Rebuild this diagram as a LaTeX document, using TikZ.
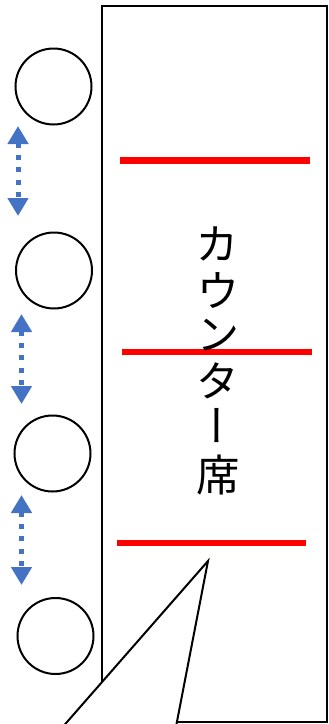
\documentclass[tikz,border=0pt]{standalone}
\usepackage{fontspec}
\newfontfamily\cjk[RawFeature=+vert]{Noto Sans CJK JP}
\usetikzlibrary{arrows.meta}
\definecolor{arrowblue}{HTML}{4472C4}
\definecolor{seatred}{HTML}{FF0000}
\tikzset{
  seat/.style={draw=black, line width=2pt, circle, minimum size=76pt, inner sep=0pt, fill=white},
  counter/.style={draw=black, line width=2pt},
  divider/.style={draw=seatred, line width=6.5pt},
  gap/.style={draw=arrowblue, line width=5pt, dash pattern=on 5pt off 7.3pt,
    {Triangle[width=20pt,length=18pt]}-{Triangle[width=20pt,length=18pt]}, shorten <=0pt, shorten >=0pt},
  bubble/.style={draw=black, line width=2pt, fill=white, line join=miter},
  vchar/.style={inner sep=0pt, font=\cjk\fontsize{43.5}{46}\selectfont},
}
\begin{document}
\begin{tikzpicture}[x=1pt,y=-1pt]
\useasboundingbox (0,0) rectangle (329,724);
\clip (0,0) rectangle (329,724);
% counter
\draw[counter] (102,6) rectangle (327,722);
% dividers
\coordinate (d1a) at (120,160.5); \coordinate (d1b) at (310,160.5);
\coordinate (d2a) at (122,352); \coordinate (d2b) at (312,352);
\coordinate (d3a) at (117,543); \coordinate (d3b) at (306,543);
\draw[divider] (d1a) -- (d1b);
\draw[divider] (d2a) -- (d2b);
\draw[divider] (d3a) -- (d3b);
% vertical label
\node[vchar] (c1) at (217,244) {カ};
\node[vchar] (c2) at (218,290.5) {ウ};
\node[vchar] (c3) at (218,335.5) {ン};
\node[vchar] (c4) at (218,381) {タ};
\node[vchar] (c5) at (217,426) {ー};
\node[vchar] (c6) at (218,475) {席};
% seats
\node[seat] (s1) at (53.5,86.5) {};
\node[seat] (s2) at (54,270.5) {};
\node[seat] (s3) at (52.5,453.5) {};
\node[seat] (s4) at (55.5,636) {};
% gap arrows
\coordinate (g1t) at (18,126); \coordinate (g1b) at (18,216);
\coordinate (g2t) at (21.5,314); \coordinate (g2b) at (21.5,404);
\coordinate (g3t) at (21.5,495); \coordinate (g3b) at (21.5,585);
\draw[gap] (g1t) -- (g1b);
\draw[gap] (g2t) -- (g2b);
\draw[gap] (g3t) -- (g3b);
% callout
\coordinate (tip) at (208,561);
\coordinate (bl) at (42.5,750);
\coordinate (br) at (171.5,750);
\fill[white] (bl) -- (tip) -- (br) -- cycle;
\draw[bubble, fill=none] (bl) -- (tip) -- (br);
\end{tikzpicture}
\end{document}
